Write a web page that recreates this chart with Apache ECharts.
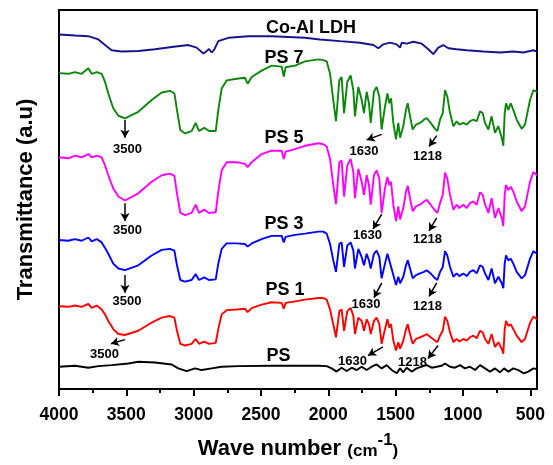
<!DOCTYPE html>
<html>
<head>
<meta charset="utf-8">
<script src="https://cdn.jsdelivr.net/npm/echarts@6/dist/echarts.min.js"></script>
<style>html,body{margin:0;padding:0;background:#fff}#c{width:553px;height:465px}</style>
</head>
<body>
<div id="c"></div>
<script>
// ---- wave numbers shared by the PS 1..PS 7 spectra (cm-1)
const waveNumbers = [4000, 3931, 3881, 3832, 3782, 3757, 3720, 3683, 3658, 3634, 3597, 3559, 3510, 3411, 3312, 3237, 3176, 3143, 3124, 3099, 3064, 3015, 2985, 2960, 2921, 2886, 2836, 2817, 2792, 2755, 2680, 2619, 2599, 2569, 2495, 2421, 2346, 2331, 2317, 2247, 2173, 2074,
  2037, 2012, 1987, 1963, 1943, 1918, 1901, 1883, 1859, 1834, 1814, 1802, 1777, 1752, 1735, 1715, 1698, 1685, 1661, 1641, 1621, 1604, 1579, 1561, 1547, 1534, 1517, 1497, 1480, 1467, 1443, 1423, 1410, 1393, 1373, 1349, 1319, 1289, 1269, 1240, 1207, 1190, 1170, 1150, 1133, 1116, 1096, 1071, 1047, 1027, 997, 972, 948, 923, 898, 873, 853, 836, 811, 787, 762, 737, 712, 700, 690, 680, 663, 645, 626, 601, 564, 539, 502, 477, 450];

const ps7 = [321.7, 321.0, 322.7, 321.0, 326.7, 321.0, 322.7, 321.0, 312.7, 301.0, 286.0, 278.3, 275.7, 282.3, 294.3, 302.0, 303.7, 301.0, 284.3, 263.7, 260.3, 262.7, 271.0, 262.7, 266.0, 262.7, 262.7, 284.3, 306.0, 314.3, 316.0, 317.0, 311.0, 317.7, 324.3, 329.3, 328.3, 318.3, 327.7, 329.3, 333.7, 335.7,
  335.0, 333.7, 321.0, 294.3, 272.7, 314.3, 317.7, 281.0, 312.7, 319.3, 304.3, 277.7, 307.7, 294.3, 281.0, 302.7, 291.0, 271.0, 302.7, 307.7, 297.7, 264.3, 287.7, 301.0, 291.0, 296.0, 271.0, 254.3, 271.0, 256.0, 267.7, 284.3, 291.0, 277.7, 264.3, 269.3, 271.0, 274.3, 276.0, 271.0, 265.0, 262.7, 274.3, 281.0, 304.3, 297.7, 281.0, 267.7, 272.7, 269.3, 271.0, 269.3, 272.7, 274.3, 272.7, 282.7, 281.0, 271.0, 264.3, 277.7, 261.0, 267.7, 256.0, 247.7, 281.0, 291.0, 284.3, 291.0, 284.3, 274.3, 265.0, 269.3, 294.3, 304.3, 302.7];

const ps5 = [236.0, 235.0, 237.7, 236.0, 239.3, 236.0, 237.7, 236.0, 227.7, 217.7, 204.3, 196.0, 192.0, 199.3, 211.0, 217.7, 219.3, 217.0, 199.3, 179.3, 177.0, 179.3, 187.7, 179.3, 182.7, 179.3, 180.0, 201.0, 222.7, 231.0, 231.0, 229.3, 226.0, 231.0, 239.3, 242.7, 242.7, 234.3, 241.7, 244.3, 247.7, 250.3,
  249.3, 247.0, 234.3, 207.7, 188.3, 231.0, 232.7, 196.0, 227.7, 234.3, 221.0, 194.3, 224.3, 211.0, 197.7, 217.7, 207.7, 187.7, 217.7, 222.7, 214.3, 179.3, 204.3, 216.0, 207.7, 211.0, 187.7, 171.0, 186.0, 172.7, 184.3, 201.0, 207.0, 194.3, 181.0, 186.0, 187.7, 191.0, 192.7, 187.7, 181.7, 179.3, 189.3, 197.7, 220.3, 214.3, 197.7, 182.7, 187.7, 184.3, 187.7, 184.3, 189.3, 191.0, 187.7, 200.3, 197.7, 187.7, 179.3, 194.3, 174.3, 184.3, 174.3, 166.0, 197.7, 207.7, 202.7, 206.0, 201.0, 191.0, 181.0, 186.0, 211.0, 221.0, 217.7];

const ps3 = [151.7, 151.0, 152.7, 151.0, 154.3, 150.3, 152.7, 149.3, 143.7, 137.7, 127.7, 122.7, 121.0, 126.0, 136.0, 141.7, 142.7, 141.0, 126.0, 111.0, 109.3, 111.0, 117.0, 111.0, 113.7, 111.0, 111.7, 127.7, 142.7, 148.3, 148.3, 147.7, 145.0, 148.3, 152.7, 156.0, 156.0, 149.3, 155.0, 157.0, 158.3, 160.3,
  160.3, 158.3, 147.7, 131.0, 119.3, 147.7, 149.3, 124.3, 146.0, 149.3, 141.0, 122.7, 142.7, 134.3, 126.0, 137.7, 131.0, 122.7, 137.7, 141.0, 134.3, 112.7, 127.7, 137.7, 131.0, 132.7, 116.0, 106.0, 114.3, 107.7, 114.3, 126.0, 131.0, 122.7, 112.7, 116.0, 117.7, 119.3, 121.0, 117.7, 112.7, 111.0, 119.3, 124.3, 140.3, 136.0, 124.3, 114.3, 117.7, 115.0, 117.7, 115.0, 119.3, 121.0, 117.7, 126.0, 124.3, 117.7, 111.0, 122.7, 107.7, 114.3, 107.7, 102.7, 127.7, 136.0, 131.0, 132.7, 127.7, 119.3, 112.7, 116.0, 132.7, 140.3, 137.7];

const ps1 = [84.3, 83.7, 85.0, 83.7, 86.7, 82.7, 85.0, 81.0, 76.0, 69.3, 61.0, 56.0, 55.0, 59.3, 67.7, 72.7, 74.3, 72.7, 59.3, 46.0, 44.3, 46.0, 51.0, 46.0, 48.3, 46.0, 47.0, 61.0, 76.0, 80.3, 81.0, 81.7, 78.3, 82.3, 86.0, 88.3, 87.7, 81.7, 87.7, 89.3, 91.0, 92.7,
  92.7, 91.0, 81.0, 66.0, 52.7, 79.3, 81.0, 59.3, 79.3, 82.7, 74.3, 56.0, 72.7, 69.3, 59.3, 71.0, 66.0, 56.0, 69.3, 72.7, 66.0, 46.0, 61.0, 71.0, 62.7, 66.0, 49.3, 39.3, 47.7, 41.0, 49.3, 61.0, 66.0, 56.0, 46.0, 51.0, 52.7, 54.3, 56.0, 52.7, 49.3, 47.7, 54.3, 59.3, 73.7, 69.3, 57.7, 47.7, 51.0, 48.3, 51.0, 49.3, 52.7, 54.3, 51.7, 59.3, 57.7, 51.0, 46.0, 56.0, 42.7, 47.7, 41.0, 36.0, 61.0, 69.3, 64.3, 66.0, 61.0, 54.3, 47.7, 51.0, 67.3, 73.7, 71.0];

// ---- Co-Al LDH spectrum
const ldhWave = [4000, 3881, 3782, 3708, 3658, 3609, 3535, 3411, 3287, 3163, 3039, 2978, 2928, 2903, 2886, 2866, 2846, 2817, 2742, 2594, 2421, 2173, 2062, 1913, 1765, 1665, 1628, 1591, 1542, 1492, 1467, 1455, 1418, 1368, 1306, 1257, 1220, 1183, 1146, 1108, 1047, 972, 848, 725, 626, 551, 477, 450];
const ldhVal = [361.0, 360.0, 359.3, 356.0, 350.3, 345.0, 343.7, 344.3, 346.0, 348.3, 350.3, 347.7, 341.7, 344.3, 346.3, 342.7, 346.0, 354.3, 357.7, 359.3, 359.3, 357.7, 356.0, 354.3, 352.7, 350.3, 347.0, 351.0, 352.7, 351.0, 347.7, 352.7, 351.7, 353.7, 351.7, 346.0, 341.0, 347.7, 350.3, 347.0, 346.0, 345.0, 343.7, 342.7, 343.7, 342.7, 345.0, 343.7];

// ---- pure PS spectrum
const psWave = [4000, 3881, 3782, 3708, 3609, 3485, 3411, 3287, 3163, 3114, 3052, 2990, 2940, 2866, 2792, 2668, 2421, 2074, 2012, 1975, 1938, 1901, 1864, 1826, 1789, 1752, 1715, 1678, 1641, 1604, 1566, 1529, 1492, 1467, 1443, 1418, 1381, 1344, 1306, 1269, 1232, 1195, 1158, 1133, 1096, 1059, 1022, 985, 948, 910, 873, 836, 799, 762, 725, 695, 663, 626, 589, 551, 514, 477, 450];
const psVal = [22.7, 23.7, 21.7, 23.3, 24.3, 26.0, 27.7, 27.0, 25.0, 21.0, 18.3, 21.0, 19.3, 21.0, 22.7, 23.3, 23.7, 23.7, 23.3, 21.0, 17.7, 21.7, 18.3, 21.7, 19.3, 22.7, 19.3, 22.7, 25.0, 21.0, 24.3, 19.3, 16.0, 21.0, 17.0, 21.7, 17.7, 21.0, 22.7, 24.3, 21.7, 22.7, 23.7, 26.0, 22.7, 21.7, 24.3, 21.0, 22.7, 19.3, 24.3, 21.0, 17.7, 21.0, 17.0, 21.0, 17.7, 21.0, 19.3, 16.0, 17.7, 21.0, 20.3];

// ---- axis ticks
const majorTicks = [4000, 3500, 3000, 2500, 2000, 1500, 1000, 500];
const minorTicks = [3750, 3250, 2750, 2250, 1750, 1250, 750];

// ---- annotations (data coordinates: wave number, offset transmittance)
const curveLabels = [['Co-Al LDH', 2128, 368], ['PS 7', 2329, 337], ['PS 5', 2329, 255.5], ['PS 3', 2329, 168], ['PS 1', 2321, 100.5], ['PS', 2370, 34]];
const peakLabels = [['3500', 3491, 244], ['3500', 3491, 162], ['3500', 3495, 89], ['3500', 3662, 35],
  ['1630', 1735, 242], ['1630', 1709, 156], ['1630', 1720, 86], ['1630', 1820, 28],
  ['1218', 1263, 236.5], ['1218', 1263, 152.3], ['1218', 1263, 84], ['1218', 1375, 27]];
const peakArrows = [[3510, 274, 3510, 256], [3510, 189.3, 3510, 171], [3510, 116, 3510, 98], [3510, 50.3, 3614, 46],
  [1603, 259.3, 1715, 253.7], [1603, 178, 1668, 163], [1603, 108, 1661, 93], [1594, 43, 1705, 34],
  [1195, 258, 1252, 247], [1195, 174.3, 1252, 161], [1195, 108, 1252, 94.3], [1185, 44.3, 1259, 31]];

const FONT = 'Arial, "Liberation Sans", Helvetica, sans-serif';
const zip = (xs, ys) => xs.map((x, i) => [x, ys[i]]);

function spectrum(name, color, xs, ys) {
  return {
    name, type: 'line', data: zip(xs, ys), showSymbol: false, symbol: 'none',
    lineStyle: { color, width: 1.9 }, itemStyle: { color }, silent: true, z: 2
  };
}

const chart = echarts.init(document.getElementById('c'), null, { renderer: 'canvas' });
chart.setOption({
  animation: false,
  grid: { left: 59, right: 16, top: 10, bottom: 69, show: true, borderColor: '#000', borderWidth: 2 },
  xAxis: [{
    type: 'value', min: 450, max: 4000, inverse: true, position: 'bottom',
    axisLine: { show: true, onZero: false, lineStyle: { color: '#000', width: 2 } },
    axisTick: { show: true, customValues: majorTicks, length: 7, lineStyle: { color: '#000', width: 2 } },
    axisLabel: { customValues: majorTicks, formatter: v => String(v), margin: 17, color: '#000', fontSize: 17.5, fontWeight: 'bold', fontFamily: FONT },
    splitLine: { show: false },
    name: '{a|Wave number }{b|(cm}{c|-1}{b|)}', nameLocation: 'middle', nameGap: 43,
    nameTextStyle: {
      rich: {
        a: { fontSize: 22, fontWeight: 'bold', color: '#000', fontFamily: FONT, lineHeight: 28, verticalAlign: 'bottom' },
        b: { fontSize: 17, fontWeight: 'bold', color: '#000', fontFamily: FONT, lineHeight: 28, verticalAlign: 'bottom' },
        c: { fontSize: 17, fontWeight: 'bold', color: '#000', fontFamily: FONT, lineHeight: 28, verticalAlign: 'top' }
      }
    }
  }, {
    type: 'value', min: 450, max: 4000, inverse: true, position: 'bottom',
    axisLine: { show: false },
    axisTick: { show: true, customValues: minorTicks, length: 4, lineStyle: { color: '#000', width: 2 } },
    axisLabel: { show: false }, splitLine: { show: false }
  }],
  yAxis: {
    type: 'value', min: 0, max: 386,
    axisLine: { show: false }, axisTick: { show: false }, axisLabel: { show: false }, splitLine: { show: false },
    name: 'Transmittance (a.u)', nameLocation: 'middle', nameGap: 22,
    nameTextStyle: { fontSize: 22, fontWeight: 'bold', color: '#000', fontFamily: FONT }
  },
  series: [
    spectrum('Co-Al LDH', '#15158c', ldhWave, ldhVal),
    spectrum('PS 7', '#0b870b', waveNumbers, ps7),
    spectrum('PS 5', '#ff00ff', waveNumbers, ps5),
    spectrum('PS 3', '#0000ff', waveNumbers, ps3),
    spectrum('PS 1', '#ff0000', waveNumbers, ps1),
    spectrum('PS', '#000000', psWave, psVal),
    {
      name: 'annotations', type: 'line', data: [], silent: true, z: 5,
      markLine: {
        silent: true, animation: false, symbol: ['none', 'arrow'], symbolSize: [7, 8],
        lineStyle: { color: '#000', width: 1.5, type: 'solid' }, label: { show: false },
        data: peakArrows.map(a => [{ coord: [a[0], a[1]] }, { coord: [a[2], a[3]] }])
      },
      markPoint: {
        silent: true, animation: false, symbol: 'circle', symbolSize: 0,
        data: curveLabels.map(l => ({ coord: [l[1], l[2]], value: l[0],
            label: { show: true, position: 'inside', formatter: l[0], color: '#000', fontSize: 18, fontWeight: 'bold', fontFamily: FONT } }))
          .concat(peakLabels.map(l => ({ coord: [l[1], l[2]], value: l[0],
            label: { show: true, position: 'inside', formatter: l[0], color: '#000', fontSize: 13, fontWeight: 'bold', fontFamily: FONT } })))
      }
    }
  ]
});
</script>
</body>
</html>
